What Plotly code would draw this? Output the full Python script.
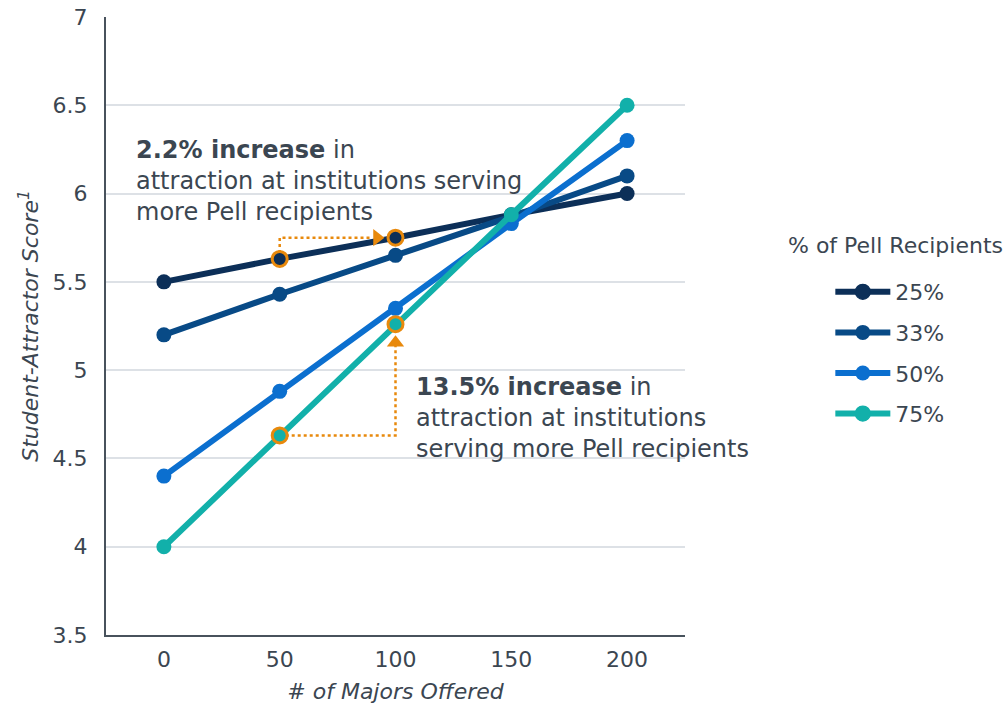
import plotly.graph_objects as go

# Number of majors offered (x) and Student-Attractor Score per Pell share
majors = [0, 50, 100, 150, 200]
series_names = ["25%", "33%", "50%", "75%"]
score_25 = [5.50, 5.63, 5.75, 5.88, 6.00]
score_33 = [5.20, 5.43, 5.65, 5.87, 6.10]
score_50 = [4.40, 4.88, 5.35, 5.83, 6.30]
score_75 = [4.00, 4.63, 5.26, 5.88, 6.50]
all_scores = [score_25, score_33, score_50, score_75]

colors = ["#0c2f58", "#084a86", "#0b6fcf", "#12b0aa"]
orange = "#e8890c"
text_color = "#3b4651"
font_family = "DejaVu Sans, Verdana, sans-serif"

# points called out by the two annotations (series index -> x values)
highlight = {0: [50, 100], 3: [50, 100]}

fig = go.Figure()

# dotted callout paths
fig.add_trace(go.Scatter(
    x=[50, 50, 90], y=[score_25[1], score_25[2], score_25[2]],
    mode="lines", line=dict(color=orange, width=2.5, dash="dot"),
    showlegend=False, hoverinfo="skip"))
fig.add_trace(go.Scatter(
    x=[50, 100, 100], y=[score_75[1], score_75[1], 5.17],
    mode="lines", line=dict(color=orange, width=2.5, dash="dot"),
    showlegend=False, hoverinfo="skip"))

for i, (name, ys) in enumerate(zip(series_names, all_scores)):
    hl = highlight.get(i, [])
    line_colors = [orange if x in hl else colors[i] for x in majors]
    line_widths = [3 if x in hl else 0 for x in majors]
    fig.add_trace(go.Scatter(
        x=majors, y=ys, name=name, mode="lines+markers",
        line=dict(color=colors[i], width=6),
        marker=dict(size=15, color=colors[i],
                    line=dict(color=line_colors, width=line_widths)),
        legendgroup=name))

# arrowheads
fig.add_trace(go.Scatter(
    x=[92], y=[score_25[2]], mode="markers",
    marker=dict(symbol="triangle-right", size=15, color=orange),
    showlegend=False, hoverinfo="skip"))
fig.add_trace(go.Scatter(
    x=[100], y=[5.155], mode="markers",
    marker=dict(symbol="triangle-up", size=15, color=orange),
    showlegend=False, hoverinfo="skip"))

fig.add_annotation(
    x=-12.8, y=6.34, xref="x", yref="y", xanchor="left", yanchor="top",
    align="left", showarrow=False,
    text="<b>2.2% increase</b> in<br>attraction at institutions serving<br>more Pell recipients",
    font=dict(size=24, color=text_color, family=font_family))
fig.add_annotation(
    x=108, y=4.995, xref="x", yref="y", xanchor="left", yanchor="top",
    align="left", showarrow=False,
    text="<b>13.5% increase</b> in<br>attraction at institutions<br>serving more Pell recipients",
    font=dict(size=24, color=text_color, family=font_family))

# legend heading
fig.add_annotation(
    x=1.363, y=0.631, xref="paper", yref="paper", xanchor="center", yanchor="middle",
    showarrow=False, text="% of Pell Recipients",
    font=dict(size=22, color=text_color, family=font_family))

fig.update_layout(
    width=1004, height=707,
    margin=dict(l=106, r=319, t=17, b=72, autoexpand=False),
    plot_bgcolor="white", paper_bgcolor="white",
    font=dict(family=font_family, color=text_color, size=22),
    hovermode=False,
    legend=dict(
        x=1.251, y=0.589, xanchor="left", yanchor="top",
        font=dict(size=22, color=text_color),
        tracegroupgap=9, itemwidth=55,
        bgcolor="rgba(0,0,0,0)"),
    xaxis=dict(
        range=[-25, 225], tickvals=majors, ticks="", showgrid=False,
        zeroline=False, showline=True, linecolor="#48525c", linewidth=2,
        tickfont=dict(size=22, color=text_color), ticklabelstandoff=4,
        title=dict(text="<i># of Majors Offered</i>", standoff=12,
                   font=dict(size=22, color=text_color))),
    yaxis=dict(
        range=[3.5, 7], dtick=0.5, tick0=3.5, ticks="", showgrid=True,
        gridcolor="#dde1e6", gridwidth=1.5, zeroline=False,
        showline=True, linecolor="#48525c", linewidth=2,
        tickfont=dict(size=22, color=text_color), ticklabelstandoff=12,
        title=dict(text="<i>Student-Attractor Score<sup>1</sup></i>", standoff=8,
                   font=dict(size=22, color=text_color))),
)

fig.write_html("out.html")
